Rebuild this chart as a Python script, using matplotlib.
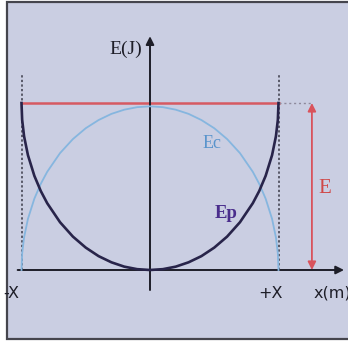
import matplotlib
matplotlib.use("Agg")
import matplotlib.pyplot as plt
from matplotlib.patches import Rectangle

# Positions along the oscillation, in units of the amplitude X
x_pos = [-1.0, -0.995, -0.98, -0.95, -0.9, -0.85, -0.8, -0.7, -0.6, -0.5, -0.4,
         -0.3, -0.2, -0.1, 0.0, 0.1, 0.2, 0.3, 0.4, 0.5, 0.6, 0.7, 0.8, 0.85,
         0.9, 0.95, 0.98, 0.995, 1.0]
# Potential energy Ep (fraction of total energy E)
ep_vals = [1.0, 0.900, 0.801, 0.688, 0.564, 0.473, 0.400, 0.286, 0.200, 0.134, 0.083,
           0.046, 0.020, 0.005, 0.0, 0.005, 0.020, 0.046, 0.083, 0.134, 0.200, 0.286,
           0.400, 0.473, 0.564, 0.688, 0.801, 0.900, 1.0]
# Kinetic energy Ec (fraction of total energy E)
ec_vals = [0.0, 0.098, 0.195, 0.306, 0.427, 0.516, 0.588, 0.700, 0.784, 0.849, 0.898,
           0.935, 0.960, 0.975, 0.980, 0.975, 0.960, 0.935, 0.898, 0.849, 0.784, 0.700,
           0.588, 0.516, 0.427, 0.306, 0.195, 0.098, 0.0]
total_energy = 1.0
amplitude = 1.0

W, H = 348, 344
fig = plt.figure(figsize=(W / 100, H / 100), dpi=100, facecolor="white")

ax = fig.add_axes([0, 0, 1, 1])
ax.set_facecolor("none")
ax.set_xlim(-150 / 128.5, (W - 150) / 128.5)
ax.set_ylim((270 - H) / 167, 270 / 167)
ax.axis("off")

# page frame (open on the right side)
ax.add_patch(Rectangle((7 / W, (H - 339) / H), 1.2, (339 - 2) / H,
                       transform=fig.transFigure, facecolor="#cacee2",
                       edgecolor="#45454d", linewidth=1.6, zorder=0,
                       clip_on=False))

# axes with arrows
ax.annotate("", xy=(1.51, 0), xytext=(-1.03, 0),
            arrowprops=dict(arrowstyle="-|>", color="#1e1e28", lw=1.4,
                            mutation_scale=12, shrinkA=0, shrinkB=0), zorder=3)
ax.annotate("", xy=(0, 1.40), xytext=(0, -0.12),
            arrowprops=dict(arrowstyle="-|>", color="#1e1e28", lw=1.4,
                            mutation_scale=12, shrinkA=0, shrinkB=0), zorder=3)

# amplitude limits
for xa in (-amplitude, amplitude):
    ax.plot([xa, xa], [0, 1.17], color="#3a3a48", lw=1.1, ls=(0, (1.5, 1.5)), zorder=2)

# total energy level
ax.plot([-amplitude, amplitude], [total_energy] * 2, color="#d65a62", lw=1.8, zorder=2)
ax.plot([amplitude, 1.25], [total_energy] * 2, color="#8e8a9c", lw=1.0,
        ls=(0, (1.5, 2)), zorder=2)

# energy curves
ax.plot(x_pos, ec_vals, color="#86b6df", lw=1.3, zorder=3)
ax.plot(x_pos, ep_vals, color="#28244a", lw=1.9, zorder=4)

# total energy arrow
ax.annotate("", xy=(1.26, 0), xytext=(1.26, total_energy),
            arrowprops=dict(arrowstyle="<|-|>", color="#d9535c", lw=1.3,
                            mutation_scale=12, shrinkA=0, shrinkB=0), zorder=3)

serif = "Liberation Serif"
ax.text(-0.06, 1.32, "E(J)", family=serif, fontsize=14, color="#1e1e28",
        ha="right", va="center", zorder=5)
ax.text(0.48, 0.76, "Ec", family=serif, fontsize=13, color="#5a94cc",
        ha="center", va="center", zorder=5)
ax.text(0.59, 0.34, "Ep", family=serif, fontsize=13.5, color="#4a2d8c",
        ha="center", va="center", weight="bold", zorder=5)
ax.text(1.36, 0.49, "E", family=serif, fontsize=15, color="#d04848",
        ha="center", va="center", zorder=5)
ax.text(-1.08, -0.14, "-X", fontsize=11.5, color="#1e1e28", ha="center", va="center", zorder=5)
ax.text(0.94, -0.14, "+X", fontsize=11.5, color="#1e1e28", ha="center", va="center", zorder=5)
ax.text(1.27, -0.14, "x(m)", fontsize=11.5, color="#1e1e28", ha="left", va="center", zorder=5)

fig.savefig("out.png", dpi=100, facecolor="white")
